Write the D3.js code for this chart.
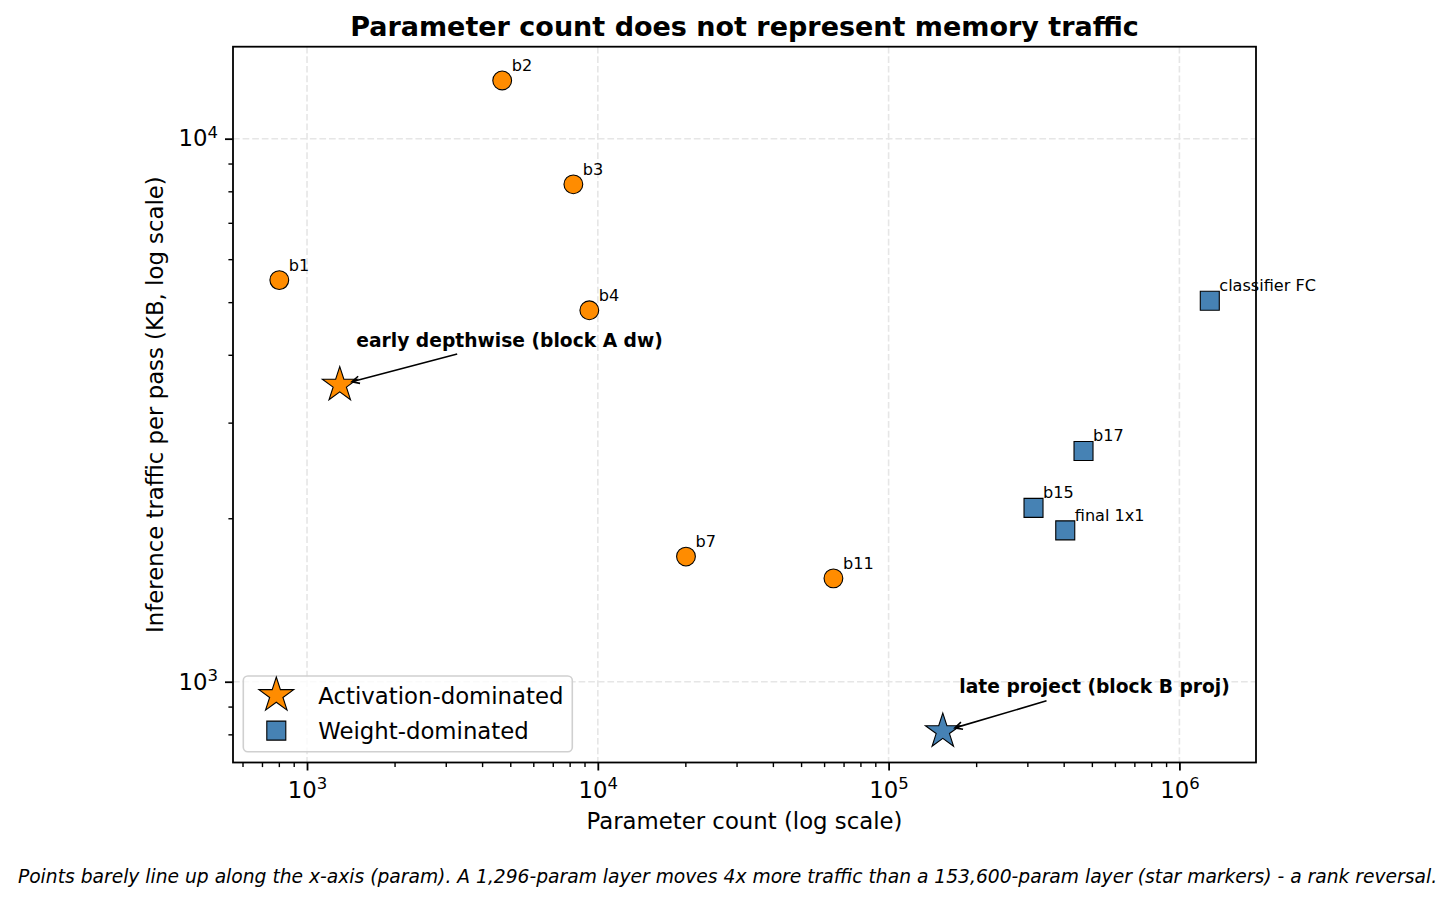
<!DOCTYPE html>
<html lang="en">
<head>
    <meta charset="utf-8">
    <script src="https://cdn.jsdelivr.net/npm/d3@7"></script>
    <style>
        body {
            margin: 0;
            background: white;
        }

        svg {
            display: block;
            font-family: "DejaVu Sans", sans-serif;
        }

        .grid line {
            stroke: #e6e6e6;
            stroke-width: 1.6px;
            stroke-dasharray: 6.7, 2.9;
        }

        .axis path {
            display: none;
        }

        .axis line {
            stroke: black;
        }

        .axis text {
            font-family: "DejaVu Sans", sans-serif;
            font-size: 22.8px;
            fill: black;
        }
    </style>
</head>
<body>
<script>
    // layers (circles / squares)
    let layerNames = ['b1', 'b2', 'b3', 'b4', 'b7', 'b11', 'b15', 'b17', 'final 1x1', 'classifier FC'];
    let layerParams = [803, 4690, 8240, 9350, 20100, 64600, 315000, 468000, 405000, 1272000];
    let layerTraffic = [5490, 12800, 8240, 4830, 1700, 1550, 2090, 2660, 1900, 5030];
    let layerKind = ['act', 'act', 'act', 'act', 'act', 'act', 'wt', 'wt', 'wt', 'wt'];

    // the two highlighted layers (stars)
    let starNames = ['early depthwise (block A dw)', 'late project (block B proj)'];
    let starParams = [1296, 153600];
    let starTraffic = [3520, 810];
    let starKind = ['act', 'wt'];

    let xMajorTicks = [1e3, 1e4, 1e5, 1e6];
    let yMajorTicks = [1e3, 1e4];
    let legendLabels = ['Activation-dominated', 'Weight-dominated'];
    let legendKind = ['act', 'wt'];

    let colors = {act: '#ff8c00', wt: '#4682b4'};

    let W = 1455, H = 903;
    let plot = {left: 233, right: 1256, top: 46.7, bottom: 762.5};

    let svg = d3.select('body').append('svg')
        .attr('width', W).attr('height', H);
    svg.append('rect').attr('width', W).attr('height', H).attr('fill', 'white');

    let x = d3.scaleLog().domain([556.5, 1.834e6]).range([plot.left, plot.right]);
    let y = d3.scaleLog().domain([710, 14770]).range([plot.bottom, plot.top]);

    function minorTicks(scale) {
        let dom = scale.domain(), out = [];
        for (let e = Math.floor(Math.log10(dom[0])); e <= Math.ceil(Math.log10(dom[1])); e++) {
            for (let m = 2; m <= 9; m++) {
                let v = m * Math.pow(10, e);
                if (v >= dom[0] && v <= dom[1]) out.push(v);
            }
        }
        return out;
    }

    // grid
    svg.append('g').attr('class', 'grid').selectAll('line')
        .data(xMajorTicks).enter().append('line')
        .attr('x1', d => x(d)).attr('x2', d => x(d))
        .attr('y1', plot.top).attr('y2', plot.bottom);
    svg.append('g').attr('class', 'grid').selectAll('line')
        .data(yMajorTicks).enter().append('line')
        .attr('y1', d => y(d)).attr('y2', d => y(d))
        .attr('x1', plot.left).attr('x2', plot.right);

    function powerLabels(sel) {
        sel.selectAll('text').each(function (d) {
            let t = d3.select(this);
            t.text('10');
            t.append('tspan').attr('font-size', '16.5px').attr('dy', '-8.3')
                .text(Math.round(Math.log10(d)));
        });
    }

    // x axis
    svg.append('g').attr('class', 'axis')
        .attr('transform', 'translate(0,' + plot.bottom + ')')
        .call(d3.axisBottom(x).tickValues(minorTicks(x)).tickSize(4.6).tickFormat(''))
        .selectAll('line').attr('stroke-width', 1.4);
    let xAxis = svg.append('g').attr('class', 'axis')
        .attr('transform', 'translate(0,' + plot.bottom + ')')
        .call(d3.axisBottom(x).tickValues(xMajorTicks).tickSize(8));
    xAxis.selectAll('line').attr('stroke-width', 1.8);
    xAxis.selectAll('text').attr('y', 19).attr('dy', '0.71em');
    powerLabels(xAxis);

    // y axis
    svg.append('g').attr('class', 'axis')
        .attr('transform', 'translate(' + plot.left + ',0)')
        .call(d3.axisLeft(y).tickValues(minorTicks(y)).tickSize(4.6).tickFormat(''))
        .selectAll('line').attr('stroke-width', 1.4);
    let yAxis = svg.append('g').attr('class', 'axis')
        .attr('transform', 'translate(' + plot.left + ',0)')
        .call(d3.axisLeft(y).tickValues(yMajorTicks).tickSize(8));
    yAxis.selectAll('line').attr('stroke-width', 1.8);
    yAxis.selectAll('text').attr('x', -15).attr('dy', '0.32em');
    powerLabels(yAxis);

    // layer points
    let layers = layerNames.map((n, i) => ({
        name: n, p: layerParams[i], t: layerTraffic[i], kind: layerKind[i]
    }));
    let circleSize = 9.4, squareSym = d3.symbol().type(d3.symbolSquare).size(361);
    let starSym = d3.symbol().type(d3.symbolStar).size(376);

    let pts = svg.append('g');
    pts.selectAll('circle')
        .data(layers.filter(d => d.kind === 'act')).enter().append('circle')
        .attr('cx', d => x(d.p)).attr('cy', d => y(d.t)).attr('r', circleSize)
        .attr('fill', colors.act).attr('stroke', 'black').attr('stroke-width', 1.1);
    pts.selectAll('path.sq')
        .data(layers.filter(d => d.kind === 'wt')).enter().append('path')
        .attr('class', 'sq')
        .attr('d', squareSym)
        .attr('transform', d => 'translate(' + x(d.p) + ',' + y(d.t) + ')')
        .attr('fill', colors.wt).attr('stroke', 'black').attr('stroke-width', 1.1);

    let stars = starNames.map((n, i) => ({
        name: n, p: starParams[i], t: starTraffic[i], kind: starKind[i]
    }));
    pts.selectAll('path.star')
        .data(stars).enter().append('path')
        .attr('class', 'star')
        .attr('d', starSym)
        .attr('transform', d => 'translate(' + x(d.p) + ',' + y(d.t) + ')')
        .attr('fill', d => colors[d.kind]).attr('stroke', 'black').attr('stroke-width', 1.1);

    // point labels
    svg.append('g').selectAll('text')
        .data(layers).enter().append('text')
        .attr('x', d => x(d.p) + 9.5).attr('y', d => y(d.t) - 9.5)
        .attr('font-size', '16.1px')
        .text(d => d.name);

    // star annotations with arrows
    let annG = svg.append('g');
    annG.selectAll('text')
        .data(stars).enter().append('text')
        .attr('x', d => x(d.p) + 16.5).attr('y', d => y(d.t) - 38.3)
        .attr('font-size', '18.7px').attr('font-weight', 'bold')
        .text(d => d.name)
        .each(function (d) {
            let bb = this.getBBox();
            let cx = bb.x + bb.width / 2, cy = bb.y + bb.height / 2;
            let tx = x(d.p), ty = y(d.t);
            let dx = tx - cx, dy = ty - cy, len = Math.hypot(dx, dy);
            let ux = dx / len, uy = dy / len;
            let s = Math.min((bb.width / 2) / Math.abs(ux), (bb.height / 2) / Math.abs(uy)) + 13;
            let sx = cx + ux * s, sy = cy + uy * s;
            let ex = tx - ux * 12.5, ey = ty - uy * 12.5;
            let hl = 7.5, hw = 3.7;
            let bx = ex - ux * hl, by = ey - uy * hl;
            annG.append('path')
                .attr('d', 'M' + sx + ',' + sy + 'L' + ex + ',' + ey +
                    'M' + (bx - uy * hw) + ',' + (by + ux * hw) + 'L' + ex + ',' + ey +
                    'L' + (bx + uy * hw) + ',' + (by - ux * hw))
                .attr('fill', 'none').attr('stroke', 'black').attr('stroke-width', 1.6);
        });

    // frame
    svg.append('rect')
        .attr('x', plot.left).attr('y', plot.top)
        .attr('width', plot.right - plot.left).attr('height', plot.bottom - plot.top)
        .attr('fill', 'none').attr('stroke', 'black').attr('stroke-width', 1.8);

    // legend
    let leg = svg.append('g');
    leg.append('rect')
        .attr('x', 243.3).attr('y', 676).attr('width', 329).attr('height', 75.7)
        .attr('rx', 4.5)
        .attr('fill', 'white').attr('fill-opacity', 0.8)
        .attr('stroke', '#d0d0d0').attr('stroke-width', 1.6);
    let legItems = leg.selectAll('g.item')
        .data(legendLabels).enter().append('g')
        .attr('transform', (d, i) => 'translate(276.3,' + (695.3 + i * 35.3) + ')');
    legItems.append('path')
        .attr('d', (d, i) => i === 0 ? starSym() : squareSym())
        .attr('fill', (d, i) => colors[legendKind[i]])
        .attr('stroke', 'black').attr('stroke-width', 1.1);
    legItems.append('text')
        .attr('x', 42).attr('dy', '0.36em')
        .attr('font-size', '22.8px')
        .text(d => d);

    // titles
    let midX = (plot.left + plot.right) / 2;
    svg.append('text')
        .attr('x', midX).attr('y', 36)
        .attr('text-anchor', 'middle')
        .attr('font-size', '27px').attr('font-weight', 'bold')
        .text('Parameter count does not represent memory traffic');
    svg.append('text')
        .attr('x', midX).attr('y', 829.3)
        .attr('text-anchor', 'middle')
        .attr('font-size', '22.8px')
        .text('Parameter count (log scale)');
    svg.append('text')
        .attr('transform', 'translate(163,' + ((plot.top + plot.bottom) / 2) + ') rotate(-90)')
        .attr('text-anchor', 'middle')
        .attr('font-size', '22.8px')
        .text('Inference traffic per pass (KB, log scale)');
    svg.append('text')
        .attr('x', W / 2).attr('y', 883)
        .attr('text-anchor', 'middle')
        .attr('font-size', '18.7px').attr('font-style', 'italic')
        .text('Points barely line up along the x-axis (param). A 1,296-param layer moves 4x more traffic than a 153,600-param layer (star markers) - a rank reversal.');
</script>
</body>
</html>
